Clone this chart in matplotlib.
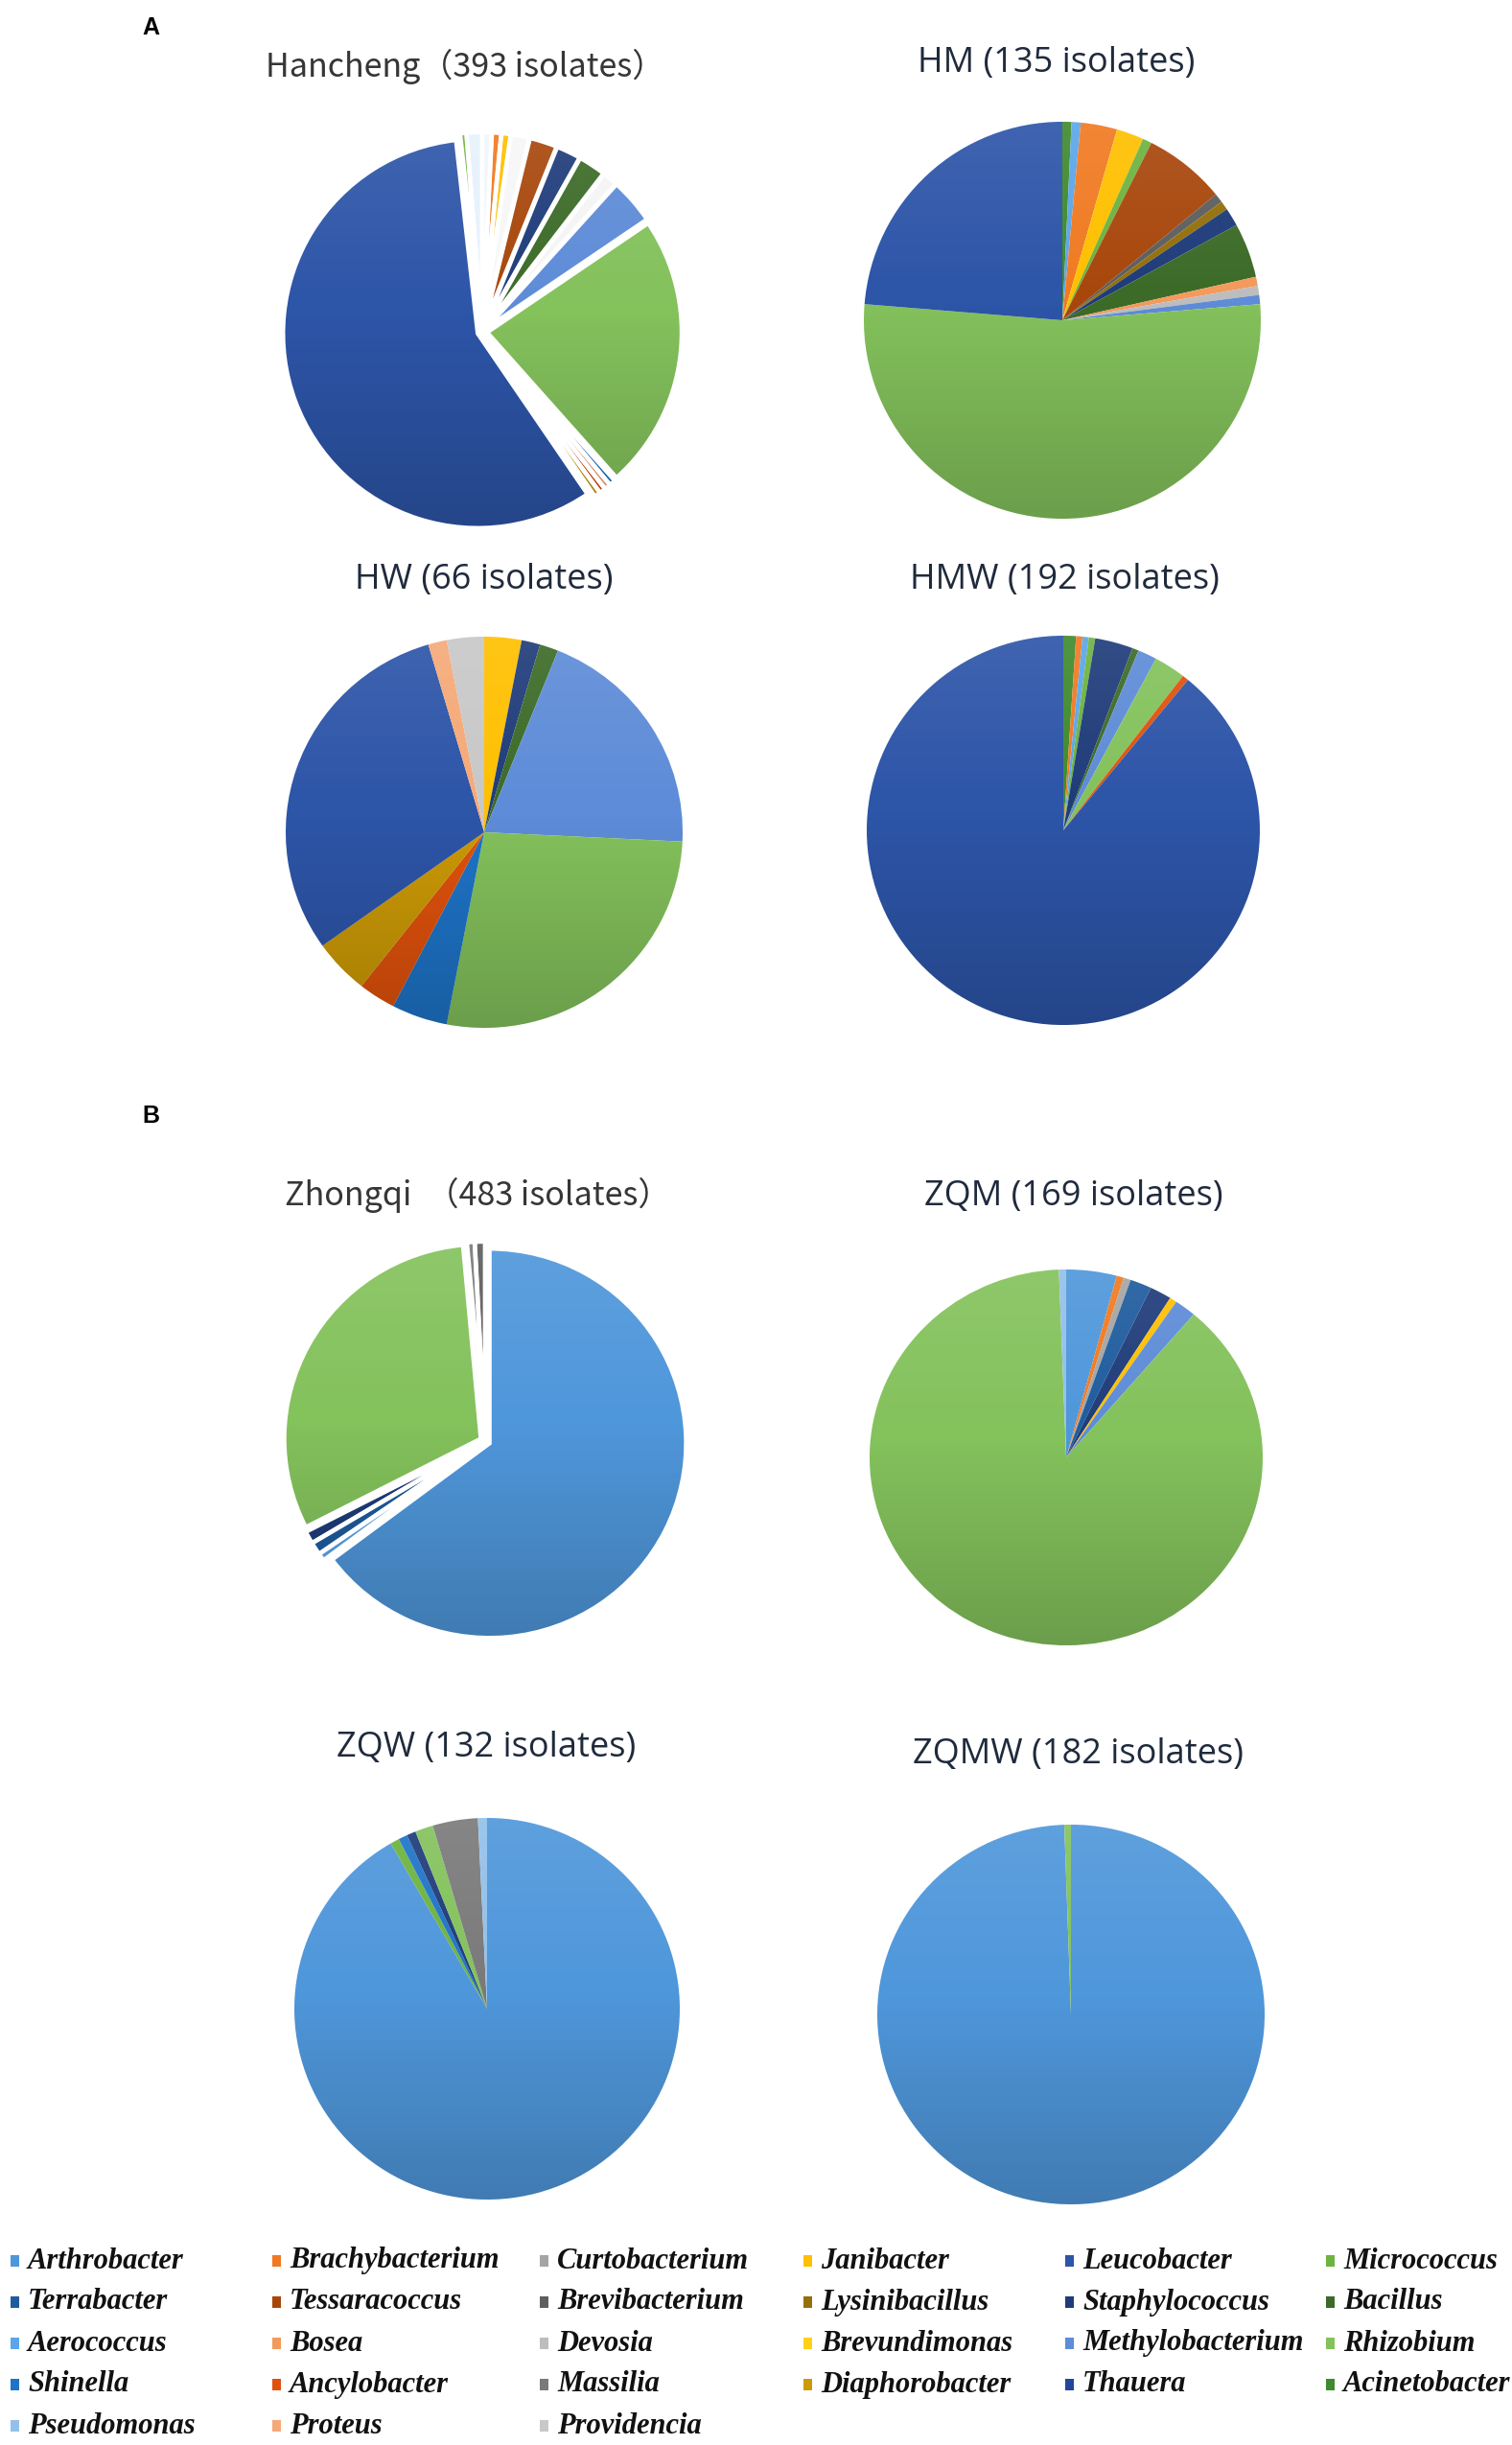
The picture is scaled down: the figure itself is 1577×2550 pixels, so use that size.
import numpy as np
import matplotlib.pyplot as plt
from matplotlib.patches import Rectangle
from matplotlib.colors import to_rgb

W, H = 1577, 2550

# legend order (row by row, 6 columns)
GENERA = ['Arthrobacter', 'Brachybacterium', 'Curtobacterium', 'Janibacter', 'Leucobacter', 'Micrococcus',
          'Terrabacter', 'Tessaracoccus', 'Brevibacterium', 'Lysinibacillus', 'Staphylococcus', 'Bacillus',
          'Aerococcus', 'Bosea', 'Devosia', 'Brevundimonas', 'Methylobacterium', 'Rhizobium',
          'Shinella', 'Ancylobacter', 'Massilia', 'Diaphorobacter', 'Thauera', 'Acinetobacter',
          'Pseudomonas', 'Proteus', 'Providencia']

GENUS_COLORS = {
    'Arthrobacter': '#4F97DB', 'Brachybacterium': '#F07A22', 'Curtobacterium': '#A5A5A5',
    'Janibacter': '#FFC000', 'Leucobacter': '#2D55A8', 'Micrococcus': '#6DB33F',
    'Terrabacter': '#1F5C9E', 'Tessaracoccus': '#A8470C', 'Brevibacterium': '#5E5E5E',
    'Lysinibacillus': '#94700A', 'Staphylococcus': '#1F3C7A', 'Bacillus': '#3C6B28',
    'Aerococcus': '#5BA6EA', 'Bosea': '#F39A5C', 'Devosia': '#BDBDBD',
    'Brevundimonas': '#FFD21A', 'Methylobacterium': '#5E8CD8', 'Rhizobium': '#84C25C',
    'Shinella': '#1E74C8', 'Ancylobacter': '#E0520C', 'Massilia': '#7A7A7A',
    'Diaphorobacter': '#CC9A06', 'Thauera': '#22479A', 'Acinetobacter': '#3F8A2E',
    'Pseudomonas': '#93C0EA', 'Proteus': '#F5A978', 'Providencia': '#C8C8C8',
}

# isolate counts per site, clockwise from 12 o'clock
hancheng_genera = ['Pseudomonas', 'Brachybacterium', 'Janibacter', 'Providencia', 'Tessaracoccus',
                   'Staphylococcus', 'Bacillus', 'Devosia', 'Methylobacterium', 'Rhizobium',
                   'Shinella', 'Proteus', 'Ancylobacter', 'Diaphorobacter', 'Leucobacter',
                   'Micrococcus', 'Aerococcus']
hancheng_counts = [3, 3, 3, 6, 9, 8, 9, 5, 15, 90, 2, 2, 2, 2, 227, 2, 5]
hancheng_faded = ['Pseudomonas', 'Providencia', 'Devosia', 'Aerococcus']

hm_genera = ['Acinetobacter', 'Aerococcus', 'Brachybacterium', 'Janibacter', 'Micrococcus',
             'Tessaracoccus', 'Brevibacterium', 'Lysinibacillus', 'Staphylococcus', 'Bacillus',
             'Bosea', 'Devosia', 'Methylobacterium', 'Rhizobium', 'Leucobacter']
hm_counts = [1, 1, 4, 3, 1, 9, 1, 1, 2, 6, 1, 1, 1, 71, 32]

hw_genera = ['Janibacter', 'Staphylococcus', 'Bacillus', 'Methylobacterium', 'Rhizobium',
             'Shinella', 'Ancylobacter', 'Diaphorobacter', 'Leucobacter', 'Proteus', 'Providencia']
hw_counts = [2, 1, 1, 13, 18, 3, 2, 3, 20, 1, 2]

hmw_genera = ['Acinetobacter', 'Brachybacterium', 'Aerococcus', 'Micrococcus', 'Staphylococcus',
              'Bacillus', 'Methylobacterium', 'Rhizobium', 'Ancylobacter', 'Leucobacter']
hmw_counts = [2, 1, 1, 1, 6, 1, 3, 5, 1, 171]

zhongqi_genera = ['Arthrobacter', 'Aerococcus', 'Terrabacter', 'Staphylococcus', 'Rhizobium',
                  'Massilia', 'Brevibacterium']
zhongqi_counts = [313, 3, 5, 5, 150, 3, 4]

zqm_genera = ['Arthrobacter', 'Brachybacterium', 'Curtobacterium', 'Terrabacter', 'Staphylococcus',
              'Janibacter', 'Methylobacterium', 'Rhizobium', 'Pseudomonas']
zqm_counts = [7, 1, 1, 3, 3, 1, 3, 149, 1]

zqw_genera = ['Arthrobacter', 'Micrococcus', 'Shinella', 'Staphylococcus', 'Rhizobium',
              'Massilia', 'Pseudomonas']
zqw_counts = [121, 1, 1, 1, 2, 5, 1]

zqmw_genera = ['Arthrobacter', 'Rhizobium']
zqmw_counts = [181, 1]

TITLES = ['Hancheng（393 isolates）', 'HM (135 isolates)', 'HW (66 isolates)', 'HMW (192 isolates)',
          'Zhongqi  （483 isolates）', 'ZQM (169 isolates)', 'ZQW (132 isolates)', 'ZQMW (182 isolates)']

# layout in pixels: pie centre / radii, title centre
PIE_BOX = [(503, 346, 203, 203), (1108, 334, 207, 207), (505, 868, 207, 204), (1109, 866, 205, 203),
           (506, 1503, 205, 203), (1112, 1520, 205, 196), (508, 2095, 201, 199), (1117, 2101, 202, 198)]
TITLE_POS = [(485, 69), (1102, 66), (505, 605), (1110, 605),
             (498, 1246), (1120, 1248), (507, 1823), (1125, 1830)]

LIM = 1.08


def blend_white(c, k=0.85):
    r, g, b = to_rgb(c)
    return (r + (1 - r) * k, g + (1 - g) * k, b + (1 - b) * k)


def shade_overlay():
    t = np.linspace(0, 1, 256)[:, None]
    rgba = np.zeros((256, 1, 4))
    top = t < 0.45
    rgba[..., :3] = np.where(top[..., None], 1.0, 0.0)
    rgba[..., 3] = np.where(top, 0.10 * (1 - t / 0.45), 0.20 * (t - 0.45) / 0.55)
    return rgba


def draw_pie(box, genera, counts, exploded=False, faded=()):
    cx, cy, rx, ry = box
    ax = fig.add_axes([(cx - rx * LIM) / W, 1 - (cy + ry * LIM) / H, 2 * rx * LIM / W, 2 * ry * LIM / H])
    colors = [blend_white(GENUS_COLORS[g]) if g in faded else GENUS_COLORS[g] for g in genera]
    explode = [0.025] * len(counts) if exploded else None
    wedges, _ = ax.pie(counts, colors=colors, startangle=90, counterclock=False, explode=explode,
                       wedgeprops=dict(linewidth=0))
    grad = shade_overlay()
    for w in wedges:
        im = ax.imshow(grad, extent=(-LIM, LIM, -LIM, LIM), aspect='auto', interpolation='bilinear',
                       zorder=2)
        im.set_clip_path(w)
    if exploded:
        ax.pie(counts, colors=['none'] * len(counts), startangle=90, counterclock=False, explode=explode,
               wedgeprops=dict(edgecolor='white', linewidth=3.2, zorder=3))
    ax.set_aspect('auto')
    ax.set_xlim(-LIM, LIM)
    ax.set_ylim(-LIM, LIM)
    ax.axis('off')
    return ax


fig = plt.figure(figsize=(W / 100, H / 100), dpi=100)
fig.patch.set_facecolor('white')

all_genera = [hancheng_genera, hm_genera, hw_genera, hmw_genera,
              zhongqi_genera, zqm_genera, zqw_genera, zqmw_genera]
all_counts = [hancheng_counts, hm_counts, hw_counts, hmw_counts,
              zhongqi_counts, zqm_counts, zqw_counts, zqmw_counts]

for i in range(8):
    exploded = i in (0, 4)
    faded = hancheng_faded if i == 0 else ()
    draw_pie(PIE_BOX[i], all_genera[i], all_counts[i], exploded=exploded, faded=faded)
    tx, ty = TITLE_POS[i]
    if i in (0, 4):
        fig.text(tx / W, 1 - ty / H, TITLES[i], ha='center', va='center', fontsize=24.5,
                 color='#363636', fontweight='medium', family=['Noto Sans CJK SC', 'DejaVu Sans'])
    else:
        fig.text(tx / W, 1 - ty / H, TITLES[i], ha='center', va='center', fontsize=26,
                 color='#1F2A3C', family=['Open Sans', 'DejaVu Sans'])

# panel letters
fig.text(157 / W, 1 - 29 / H, 'A', ha='center', va='center', fontsize=18, fontweight='bold',
         family='Liberation Sans')
fig.text(157 / W, 1 - 1164 / H, 'B', ha='center', va='center', fontsize=18, fontweight='bold',
         family='Liberation Sans')

# legend
col_x = [11, 284, 563, 838, 1111, 1383]
row_y = [2358, 2401, 2444, 2487, 2530]
for k, g in enumerate(GENERA):
    r, c = divmod(k, 6)
    x, y = col_x[c], row_y[r]
    fig.patches.append(Rectangle((x / W, 1 - (y + 6) / H), 9 / W, 12 / H, transform=fig.transFigure,
                                 facecolor=GENUS_COLORS[g], edgecolor='none'))
    fig.text((x + 18) / W, 1 - y / H, g, ha='left', va='center', fontsize=22, fontstyle='italic',
             fontweight='bold', family='Liberation Serif', color='#111111')

fig.savefig('out.png', dpi=100)
